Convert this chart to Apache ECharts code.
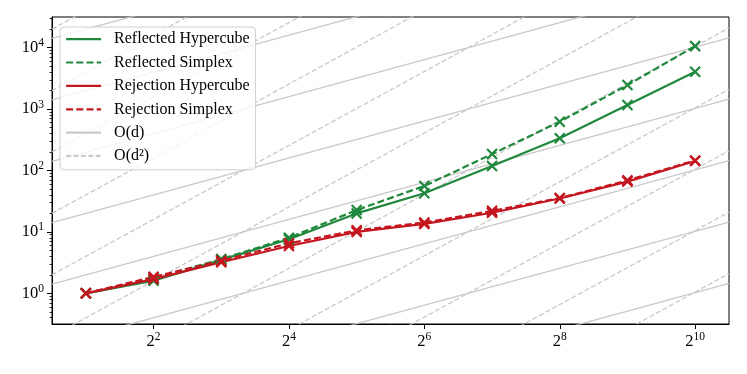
<!DOCTYPE html>
<html>
<head>
<meta charset="utf-8">
<script src="https://cdn.jsdelivr.net/npm/echarts@6/dist/echarts.min.js"></script>
<style>
html,body{margin:0;padding:0;background:#fff;}
#chart{width:747px;height:374px;}
</style>
</head>
<body>
<div id="chart"></div>
<script>
// Dimension d (x axis, log base 2)
const dims = [2, 4, 8, 16, 32, 64, 128, 256, 512, 1024];
// Series values (y axis, log base 10)
const reflectedHypercube = [1, 1.6, 3.5, 7.6, 20, 42.6, 118, 334, 1170, 4060];
const reflectedSimplex   = [1, 1.75, 3.6, 8.0, 22.7, 56, 185, 623, 2460, 10600];
const rejectionHypercube = [1, 1.7, 3.2, 5.9, 10.0, 13.5, 20.5, 35, 66, 143];
const rejectionSimplex   = [1, 1.85, 3.4, 6.5, 10.6, 14.2, 22, 35.5, 69, 146];
// Reference guide lines: y = 10^k * d  and  y = 10^k * d^2
const linearOffsets = [-3, -2, -1, 0, 1, 2, 3, 4];
const quadraticOffsets = [-6, -5, -4, -3, -2, -1, 0, 1, 2, 3, 4];
// Tick labels (exponents)
const xTickExps = [2, 4, 6, 8, 10];
const yTickExps = [0, 1, 2, 3, 4];
const xRange = [0.5, 10.5];   // log2 extent
const yRange = [-0.5, 4.5];   // log10 extent

const GREEN = '#1f883d';
const RED = '#c4161f';
const GRAY = '#c9c9c9';
const FONT = '"Liberation Serif", "Times New Roman", serif';

function toLog(vals) {
  return dims.map((d, i) => [Math.log2(d), Math.log10(vals[i])]);
}
const LOG10_2 = Math.log10(2);
function guide(k, slope) {
  return xRange.map(x => [x, k + slope * x * LOG10_2]);
}

const xMark = 'path://M0,0L10,10M10,0L0,10';

function dataSeries(name, vals, color, dashed) {
  return {
    name: name,
    type: 'line',
    data: toLog(vals),
    symbol: xMark,
    symbolSize: 10,
    showSymbol: true,
    lineStyle: { color: color, width: 2.2, type: dashed ? [7, 3.2] : 'solid' },
    itemStyle: { color: 'none', borderColor: color, borderWidth: 2.2 },
    z: 5,
    clip: true
  };
}

const series = [];
linearOffsets.forEach(k => series.push({
  name: 'O(d)', type: 'line', data: guide(k, 1), symbol: 'none',
  lineStyle: { color: GRAY, width: 1.3, type: 'solid' },
  itemStyle: { color: GRAY }, z: 1, clip: true, silent: true
}));
quadraticOffsets.forEach(k => series.push({
  name: 'O(d²)', type: 'line', data: guide(k, 2), symbol: 'none',
  lineStyle: { color: GRAY, width: 1.3, type: [5, 2.4] },
  itemStyle: { color: GRAY }, z: 1, clip: true, silent: true
}));
series.push(dataSeries('Reflected Hypercube', reflectedHypercube, GREEN, false));
series.push(dataSeries('Reflected Simplex', reflectedSimplex, GREEN, true));
series.push(dataSeries('Rejection Hypercube', rejectionHypercube, RED, false));
series.push(dataSeries('Rejection Simplex', rejectionSimplex, RED, true));

const yMinor = [];
for (let e = -1; e <= 4; e++) {
  for (let m = 2; m <= 9; m++) {
    const v = Math.log10(m) + e;
    if (v >= yRange[0] && v <= yRange[1]) yMinor.push(v);
  }
}

const rich = {
  b: { fontSize: 16.5, fontFamily: FONT, color: '#000' },
  s: { fontSize: 11.5, fontFamily: FONT, color: '#000', padding: [0, 0, 9, 0] }
};

const chart = echarts.init(document.getElementById('chart'), null, { renderer: 'canvas' });
chart.setOption({
  animation: false,
  backgroundColor: '#fff',
  grid: { left: 52, right: 18, top: 17, bottom: 50, show: true, borderColor: '#000', borderWidth: 1, backgroundColor: 'transparent' },
  legend: {
    data: ['Reflected Hypercube', 'Reflected Simplex', 'Rejection Hypercube', 'Rejection Simplex', 'O(d)', 'O(d²)'],
    orient: 'vertical',
    left: 60, top: 27,
    padding: [4, 6, 6, 5],
    itemWidth: 35, itemHeight: 14, itemGap: 7.2,
    backgroundColor: 'rgba(255,255,255,0.8)',
    borderColor: '#d0d0d0', borderWidth: 1, borderRadius: 4,
    itemStyle: { opacity: 0 },
    lineStyle: { width: 2.2 },
    textStyle: { fontSize: 16, fontFamily: FONT, color: '#000', padding: [0, 0, 0, 8] },
    selectedMode: false
  },
  xAxis: {
    type: 'value', min: xRange[0], max: xRange[1],
    splitLine: { show: false },
    axisLine: { show: true, onZero: false, lineStyle: { color: '#000', width: 1 } },
    axisTick: { show: true, length: 5, customValues: xTickExps, lineStyle: { color: '#000', width: 1 } },
    axisLabel: {
      customValues: xTickExps, margin: 7,
      formatter: v => '{b|2}{s|' + v + '}',
      rich: rich
    }
  },
  yAxis: [{
    type: 'value', min: yRange[0], max: yRange[1], position: 'left',
    splitLine: { show: false },
    axisLine: { show: true, onZero: false, lineStyle: { color: '#000', width: 1 } },
    axisTick: { show: true, length: 5, customValues: yTickExps, lineStyle: { color: '#000', width: 1 } },
    axisLabel: {
      customValues: yTickExps, margin: 8,
      formatter: v => '{b|10}{s|' + v + '}',
      rich: rich
    }
  }, {
    type: 'value', min: yRange[0], max: yRange[1], position: 'left', offset: 0,
    splitLine: { show: false },
    axisLine: { show: false, onZero: false },
    axisTick: { show: true, length: 2.5, customValues: yMinor, lineStyle: { color: '#000', width: 0.8 } },
    axisLabel: { show: false }
  }],
  series: series
});
</script>
</body>
</html>
